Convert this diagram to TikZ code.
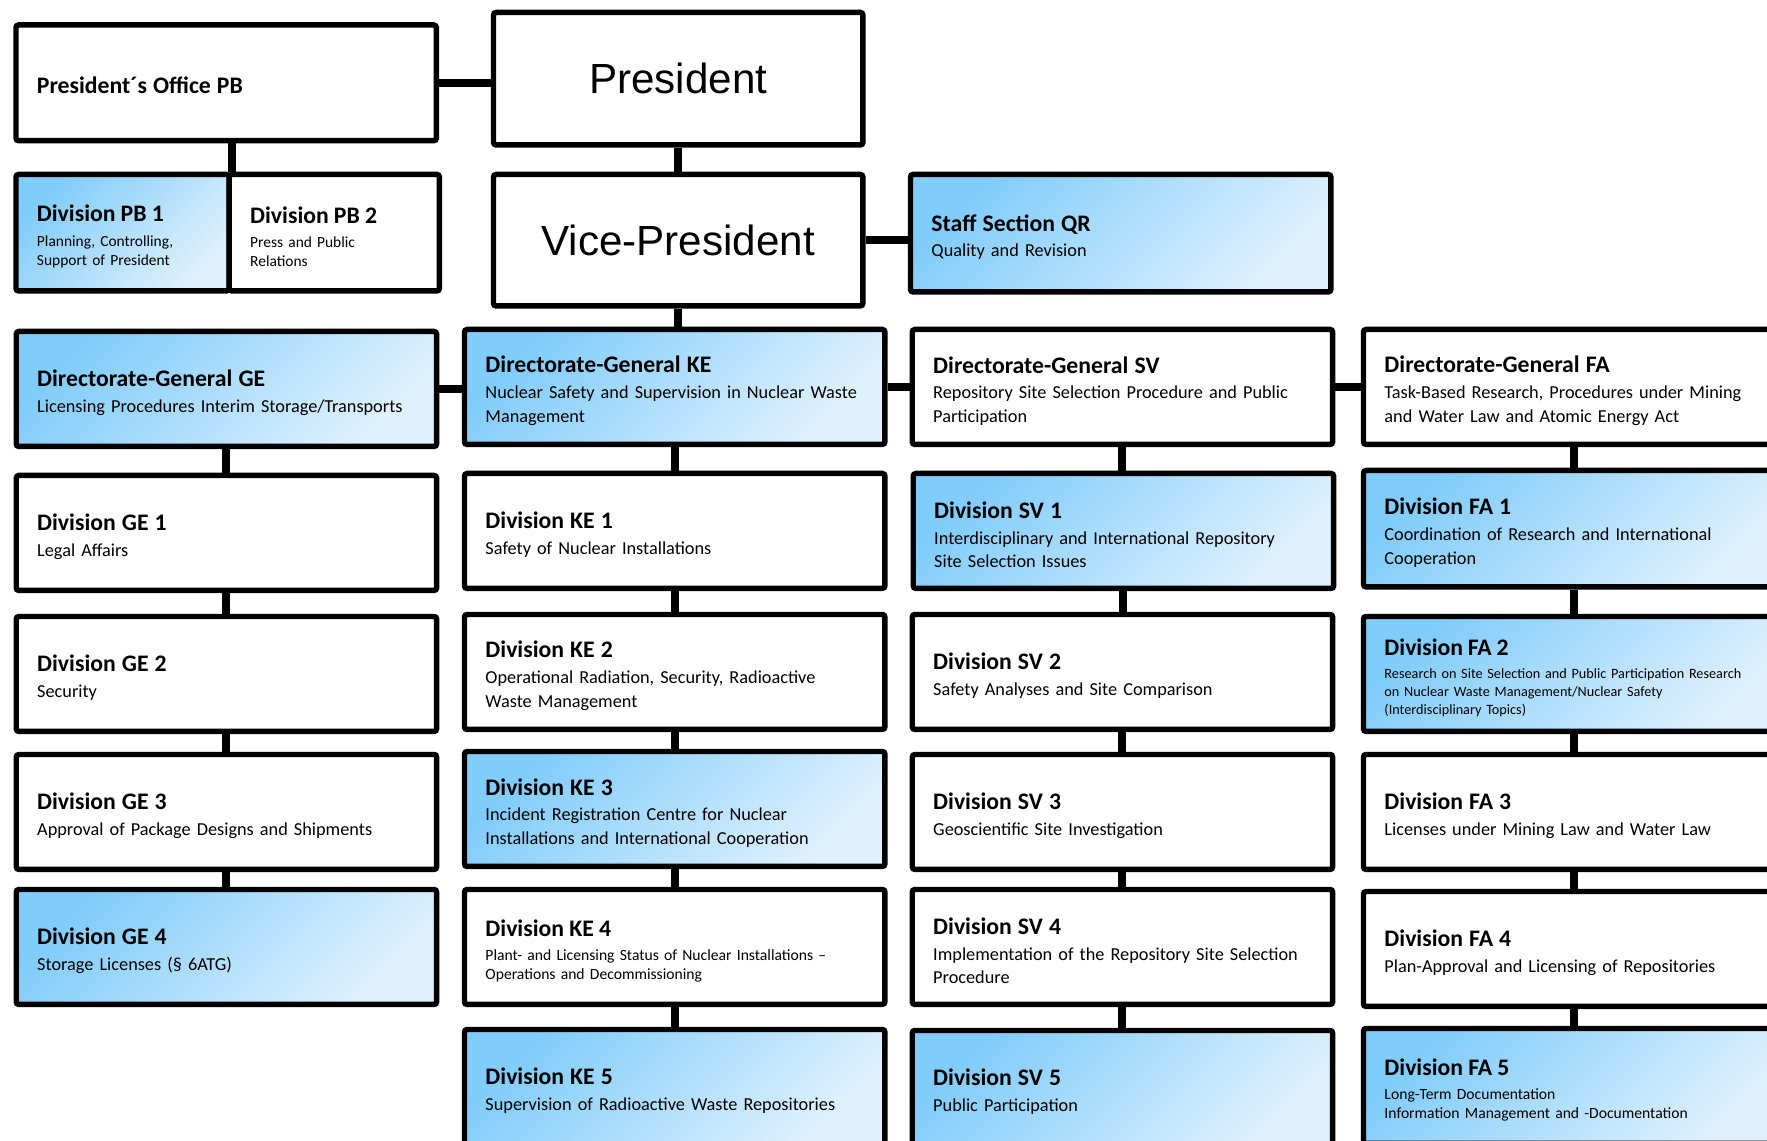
\documentclass[tikz,border=0pt]{standalone}
\usepackage{fontspec}
\setmainfont{Carlito}
\newfontfamily\presfont{Liberation Sans}
\usepackage{tikz}
\definecolor{skyDark}{RGB}{128,204,250}
\definecolor{skyLight}{RGB}{224,241,253}
\newcommand{\divtext}[3][1pt]{{\fontsize{13.5}{16}\selectfont\bfseries\rule{0pt}{14pt}#2}\\[#1]#3}
\tikzset{
  orgbox/.style={draw, line width=3.1pt, rounded corners=1.5pt, fill=white,
    anchor=north west, inner sep=0pt, align=left,
    minimum width=8.41cm, minimum height=2.3cm, text width=7.57cm,
    font=\fontsize{10.4}{13.6}\selectfont},
  bluebox/.style={orgbox, top color=skyDark, bottom color=skyLight, shading angle=45},
  halfbox/.style={minimum height=2.33cm, font=\fontsize{8.8}{10.9}\selectfont},
  headbox/.style={orgbox, minimum width=7.39cm, text width=7cm, align=center,
    font=\presfont\fontsize{24}{28}\selectfont},
  smalltext/.style={font=\fontsize{8.9}{10.9}\selectfont},
  link/.style={line width=4.5pt},
}
\begin{document}
\begin{tikzpicture}[x=0.02cm, y=-0.02cm]
    \useasboundingbox (0,0) rectangle (1767,1141);
    \clip (0,0) rectangle (1767,1141);
    \fill[white] (0,0) rectangle (1767,1141);
    % management
    \node[headbox, minimum height=2.65cm] (pres) at (490.75,9.75) {President};
    \node[headbox, minimum height=2.63cm] (vp) at (490.75,171.75) {Vice-President};
    \node[orgbox, minimum height=2.315cm] (po) at (13.25,22.25)
        {{\fontsize{13.5}{16}\selectfont\bfseries\rule{0pt}{12pt}President´s Office PB}};
    \node[bluebox, halfbox, minimum width=4.265cm, text width=3.425cm] (pb1) at (13.25,171.75)
        {\divtext[3pt]{Division PB 1}{Planning, Controlling,\\Support of President}};
    \node[orgbox, halfbox, minimum width=4.205cm, text width=3.365cm] (pb2) at (226.5,171.75)
        {\divtext[3pt]{Division PB 2}{Press and Public\\Relations}};
    \node[bluebox, minimum height=2.35cm] (qr) at (907.75,171.75)
        {\divtext{Staff Section QR}{Quality and Revision}};
    % directorates-general
    \node[bluebox] (dgge) at (13.5,328.75)
        {\divtext{Directorate-General GE}{Licensing Procedures Interim Storage/Transports}};
    \node[bluebox] (dgke) at (461.75,326.75)
        {\divtext{Directorate-General KE}{Nuclear Safety and Supervision in Nuclear Waste\\Management}};
    \node[orgbox] (dgsv) at (909.5,326.75)
        {\divtext{Directorate-General SV}{Repository Site Selection Procedure and Public\\Participation}};
    \node[orgbox] (dgfa) at (1360.75,326.75)
        {\divtext{Directorate-General FA}{Task-Based Research, Procedures under Mining\\and Water Law and Atomic Energy Act}};
    % GE
    \node[orgbox] (ge1) at (13.5,472.75) {\divtext{Division GE 1}{Legal Affairs}};
    \node[orgbox] (ge2) at (13.5,613.75) {\divtext{Division GE 2}{Security}};
    \node[orgbox] (ge3) at (13.5,751.75) {\divtext{Division GE 3}{Approval of Package Designs and Shipments}};
    \node[bluebox] (ge4) at (13.5,886.75) {\divtext{Division GE 4}{Storage Licenses (§ 6ATG)}};
    % KE
    \node[orgbox] (ke1) at (461.75,470.75) {\divtext{Division KE 1}{Safety of Nuclear Installations}};
    \node[orgbox] (ke2) at (461.75,611.75)
        {\divtext{Division KE 2}{Operational Radiation, Security, Radioactive\\Waste Management}};
    \node[bluebox] (ke3) at (461.75,748.75)
        {\divtext{Division KE 3}{Incident Registration Centre for Nuclear\\Installations and International Cooperation}};
    \node[orgbox, smalltext] (ke4) at (461.75,886.75)
        {\divtext[3pt]{Division KE 4}{Plant- and Licensing Status of Nuclear Installations --\\Operations and Decommissioning}};
    \node[bluebox] (ke5) at (461.75,1026.75)
        {\divtext{Division KE 5}{Supervision of Radioactive Waste Repositories}};
    % SV
    \node[bluebox] (sv1) at (910.5,470.75)
        {\divtext{Division SV 1}{Interdisciplinary and International Repository\\Site Selection Issues}};
    \node[orgbox] (sv2) at (909.5,611.75) {\divtext{Division SV 2}{Safety Analyses and Site Comparison}};
    \node[orgbox] (sv3) at (909.5,751.75) {\divtext{Division SV 3}{Geoscientific Site Investigation}};
    \node[orgbox] (sv4) at (909.5,886.75)
        {\divtext{Division SV 4}{Implementation of the Repository Site Selection\\Procedure}};
    \node[bluebox] (sv5) at (909.5,1027.75) {\divtext{Division SV 5}{Public Participation}};
    % FA
    \node[bluebox, minimum height=2.33cm] (fa1) at (1360.75,467.75)
        {\divtext{Division FA 1}{Coordination of Research and International\\Cooperation}};
    \node[bluebox, font=\fontsize{8.1}{10.2}\selectfont] (fa2) at (1360.75,613.75)
        {\divtext[3pt]{Division FA 2}{Research on Site Selection and Public Participation Research\\on Nuclear Waste Management/Nuclear Safety\\(Interdisciplinary Topics)}};
    \node[orgbox] (fa3) at (1360.75,751.75) {\divtext{Division FA 3}{Licenses under Mining Law and Water Law}};
    \node[orgbox] (fa4) at (1360.75,888.75) {\divtext{Division FA 4}{Plan-Approval and Licensing of Repositories}};
    \node[bluebox, font=\fontsize{8.9}{10.9}\selectfont] (fa5) at (1360.75,1025.75)
        {\divtext[3pt]{Division FA 5}{Long-Term Documentation\\Information Management and -Documentation}};
    % connectors
    \draw[link] (po.east) -- (po.east -| pres.west);
    \draw[link] (po.south -| pb1.north east) -- (pb1.north east);
    \draw[link] (pres) -- (vp);
    \draw[link] (vp.east) -- (vp.east -| qr.west);
    \draw[link] (vp.south) -- (vp.south |- dgke.north);
    \foreach \a/\b in {dgge/dgke, dgke/dgsv, dgsv/dgfa}
        \draw[link] (\a.east) -- (\a.east -| \b.west);
    \foreach \a/\b in {dgge/ge1, ge1/ge2, ge2/ge3, ge3/ge4,
                       dgke/ke1, ke1/ke2, ke2/ke3, ke3/ke4, ke4/ke5,
                       dgsv/sv1, sv1/sv2, sv2/sv3, sv3/sv4, sv4/sv5,
                       dgfa/fa1, fa1/fa2, fa2/fa3, fa3/fa4, fa4/fa5}
        \draw[link] (\a.south) -- (\a.south |- \b.north);
\end{tikzpicture}
\end{document}
